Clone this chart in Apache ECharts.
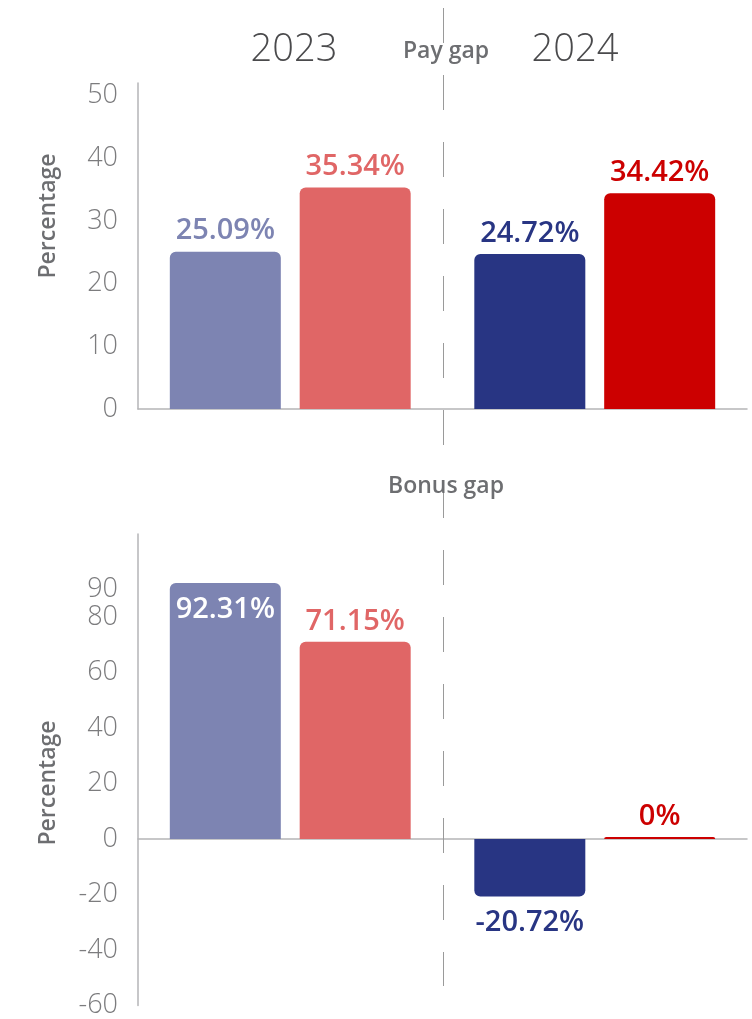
<!DOCTYPE html>
<html><head><meta charset="utf-8">
<script src="https://cdn.jsdelivr.net/npm/echarts@6/dist/echarts.min.js"></script>
<style>html,body{margin:0;padding:0;background:#fff}#c{width:752px;height:1019px}</style>
</head><body><div id="c"></div>
<script>
// ---- data ----
const years = ['2023', '2024'];
const payMean = [25.09, 24.72];
const payMedian = [35.34, 34.42];
const bonusMean = [92.31, -20.72];
const bonusMedian = [71.15, 0];
const payTicks = [0, 10, 20, 30, 40, 50];
const bonusTicks = [-60, -40, -20, 0, 20, 40, 60, 80, 90];
const panelTitles = ['Pay gap', 'Bonus gap'];
const axisName = 'Percentage';
const meanColors = ['#7d84b2', '#283583'];
const medianColors = ['#e06666', '#cc0000'];

// ---- styles ----
const FONT = '"Open Sans", "Noto Sans", sans-serif';
const axisColor = '#b5b5b7';
const tickColor = '#7c7c7e';
const titleColor = '#6d6e71';

function items(vals, colors) {
  return vals.map((v, i) => {
    const inside = v > 90;
    const neg = v < 0;
    return {
      value: v,
      itemStyle: { color: colors[i], borderRadius: neg ? [0, 0, 6, 6] : [6, 6, 0, 0] },
      label: {
        color: inside ? '#ffffff' : colors[i],
        position: neg ? 'bottom' : (inside ? 'insideTop' : 'top'),
        distance: neg ? 12 : (inside ? 12 : 6)
      }
    };
  });
}

const labelBase = {
  show: true, fontFamily: FONT, fontSize: 29, fontWeight: 600,
  formatter: p => p.value + '%'
};

function yAxisCfg(grid, min, max, ticks) {
  return {
    gridIndex: grid, type: 'value', min: min, max: max, interval: 10,
    axisLine: { show: true, lineStyle: { color: axisColor, width: 1.5 } },
    axisTick: { show: false },
    splitLine: { show: false },
    axisLabel: {
      fontFamily: FONT, fontSize: 27, fontWeight: 300, color: tickColor, margin: 20,
      padding: [0, 0, 12, 0],
      showMaxLabel: true,
      formatter: v => ticks.indexOf(v) >= 0 ? String(v) : ''
    }
  };
}
function xAxisCfg(grid) {
  return {
    gridIndex: grid, type: 'category', data: years,
    axisLine: { show: true, onZero: true, lineStyle: { color: axisColor, width: 1.5 } },
    axisTick: { show: false },
    axisLabel: { show: false }
  };
}

const chart = echarts.init(document.getElementById('c'), null, { renderer: 'canvas' });
const option = {
  animation: false,
  backgroundColor: '#ffffff',
  grid: [
    { left: 138, right: 5, top: 83, height: 326 },
    { left: 138, right: 5, top: 534, height: 476 }
  ],
  xAxis: [xAxisCfg(0), xAxisCfg(1)],
  yAxis: [yAxisCfg(0, 0, 52, payTicks), yAxisCfg(1, -60, 110, bonusTicks)],
  series: [
    { name: 'Mean', type: 'bar', xAxisIndex: 0, yAxisIndex: 0, barWidth: 111, barGap: '17%',
      data: items(payMean, meanColors), label: labelBase },
    { name: 'Median', type: 'bar', xAxisIndex: 0, yAxisIndex: 0, barWidth: 111, barGap: '17%',
      data: items(payMedian, medianColors), label: labelBase },
    { name: 'Mean', type: 'bar', xAxisIndex: 1, yAxisIndex: 1, barWidth: 111, barGap: '17%', barMinHeight: 2,
      data: items(bonusMean, meanColors), label: labelBase },
    { name: 'Median', type: 'bar', xAxisIndex: 1, yAxisIndex: 1, barWidth: 111, barGap: '17%', barMinHeight: 2,
      data: items(bonusMedian, medianColors), label: labelBase }
  ]
};
chart.setOption(option);

// divider between the two years and decorative texts
const c0 = chart.convertToPixel({ xAxisIndex: 0, yAxisIndex: 0 }, [0, 0]);
const c1 = chart.convertToPixel({ xAxisIndex: 0, yAxisIndex: 0 }, [1, 0]);
const midX = Math.round((c0[0] + c1[0]) / 2) + 0.5;
function txt(text, x, y, size, weight, color, rot) {
  return {
    type: 'text', x: x, y: y, rotation: rot || 0, z: 10,
    style: {
      text: text, fill: color, font: weight + ' ' + size + 'px ' + FONT,
      textAlign: 'center', textVerticalAlign: 'middle', align: 'center', verticalAlign: 'middle'
    }
  };
}
function dash(y1, y2) {
  return {
    type: 'line', z: 1, silent: true,
    shape: { x1: midX, y1: y1, x2: midX, y2: y2 },
    style: { stroke: '#9a9a9a', lineWidth: 1, lineDash: [35, 32] }
  };
}
chart.setOption({
  graphic: [
    dash(8, 445),
    dash(483, 986),
    txt(years[0], 294, 50, 38, 300, '#4a4a4c'),
    txt(years[1], 575, 50, 38, 300, '#4a4a4c'),
    txt(panelTitles[0], 446, 51, 23, 600, titleColor),
    txt(panelTitles[1], 446, 486, 23, 600, titleColor),
    txt(axisName, 48, 216, 23, 600, titleColor, Math.PI / 2),
    txt(axisName, 48, 783, 23, 600, titleColor, Math.PI / 2)
  ]
});
</script>
</body></html>
